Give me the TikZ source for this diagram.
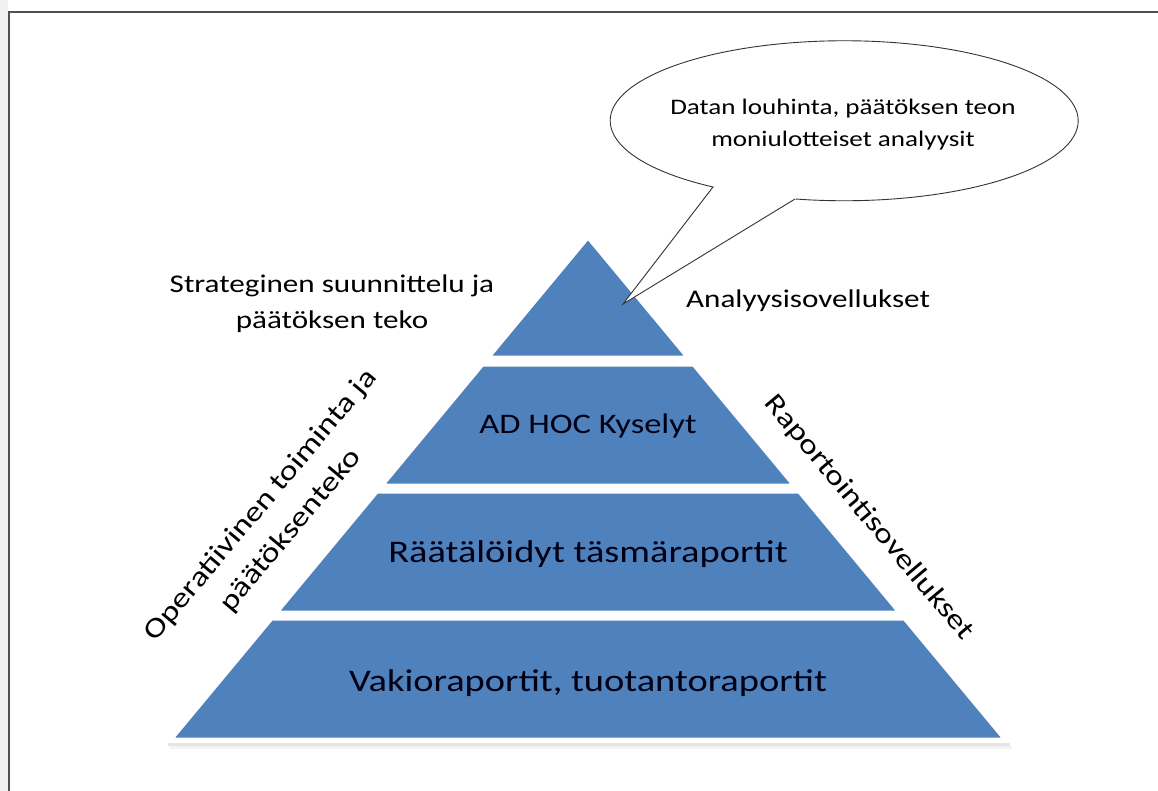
\documentclass[tikz,border=0pt]{standalone}
\usepackage{fontspec}
\setmainfont[FakeStretch=1.22]{Carlito}
\definecolor{pyrblue}{HTML}{4F81BD}
\definecolor{framegray}{HTML}{505050}
\begin{document}
\begin{tikzpicture}[x=1pt,y=-1pt,
  layer/.style={fill=pyrblue, draw=white, line width=3pt, line join=miter},
  pyrtext/.style={anchor=base, inner sep=0pt, text=black!92!blue, font=\fontsize{31.5}{36}\selectfont},
  sidetext/.style={inner sep=0pt, align=center, font=\fontsize{25.5}{36}\selectfont},
  slanttext/.style={inner sep=0pt, align=center, font=\fontsize{28}{39}\selectfont},
  bubbletext/.style={inner sep=0pt, align=center, font=\fontsize{22.2}{32}\selectfont},
  callout/.style={draw=black!80, line width=0.9pt, fill=white}]
\useasboundingbox (0,0) rectangle (1158,791);
% page margin and frame
\fill[black!6] (0,0) rectangle (8,791);
\draw[framegray, line width=2pt] (9,791) -- (9,12) -- (1158,12);

% soft shadow under the base
\draw[black, opacity=0.10, line width=3pt] (168,744) -- (1010,744);
\draw[black, opacity=0.05, line width=3pt] (170,747) -- (1012,747);

% pyramid levels
\draw[layer] (588,238) -- (686.8,357) -- (489.2,357) -- cycle;
\draw[layer] (482.6,365) -- (693.4,365) -- (793.1,485) -- (382.9,485) -- cycle;
\draw[layer] (377.1,492) -- (798.9,492) -- (898.5,612) -- (277.5,612) -- cycle;
\draw[layer] (271.7,619) -- (904.3,619) -- (1004,739) -- (172,739) -- cycle;

\node[pyrtext, font=\fontsize{28.3}{34}\selectfont] (adhoc) at (588,433) {AD HOC Kyselyt};
\node[pyrtext] (custom) at (588,562) {Räätälöidyt täsmäraportit};
\node[pyrtext] (standard) at (588,691) {Vakioraportit, tuotantoraportit};

% side labels
\node[sidetext] (strategic) at (332,304) {Strateginen suunnittelu ja\\päätöksen teko};
\node[sidetext, anchor=base west] (analysis) at (686,308) {Analyysisovellukset};
\node[slanttext, rotate=50] (operative) at (276,518) {Operatiivinen toiminta ja\\päätöksenteko};
\node[slanttext, rotate=-50] (reporting) at (869,518) {Raportointisovellukset};

% speech bubble pointing into the top level
\coordinate (tip) at (623,304);
\draw[callout, line join=miter] (795,199) -- (tip) -- (713,187)
  arc[start angle=-235.9, end angle=102, x radius=234, y radius=80];
\node[bubbletext] (mining) at (843,125) {Datan louhinta, päätöksen teon\\moniulotteiset analyysit};
\end{tikzpicture}
\end{document}
